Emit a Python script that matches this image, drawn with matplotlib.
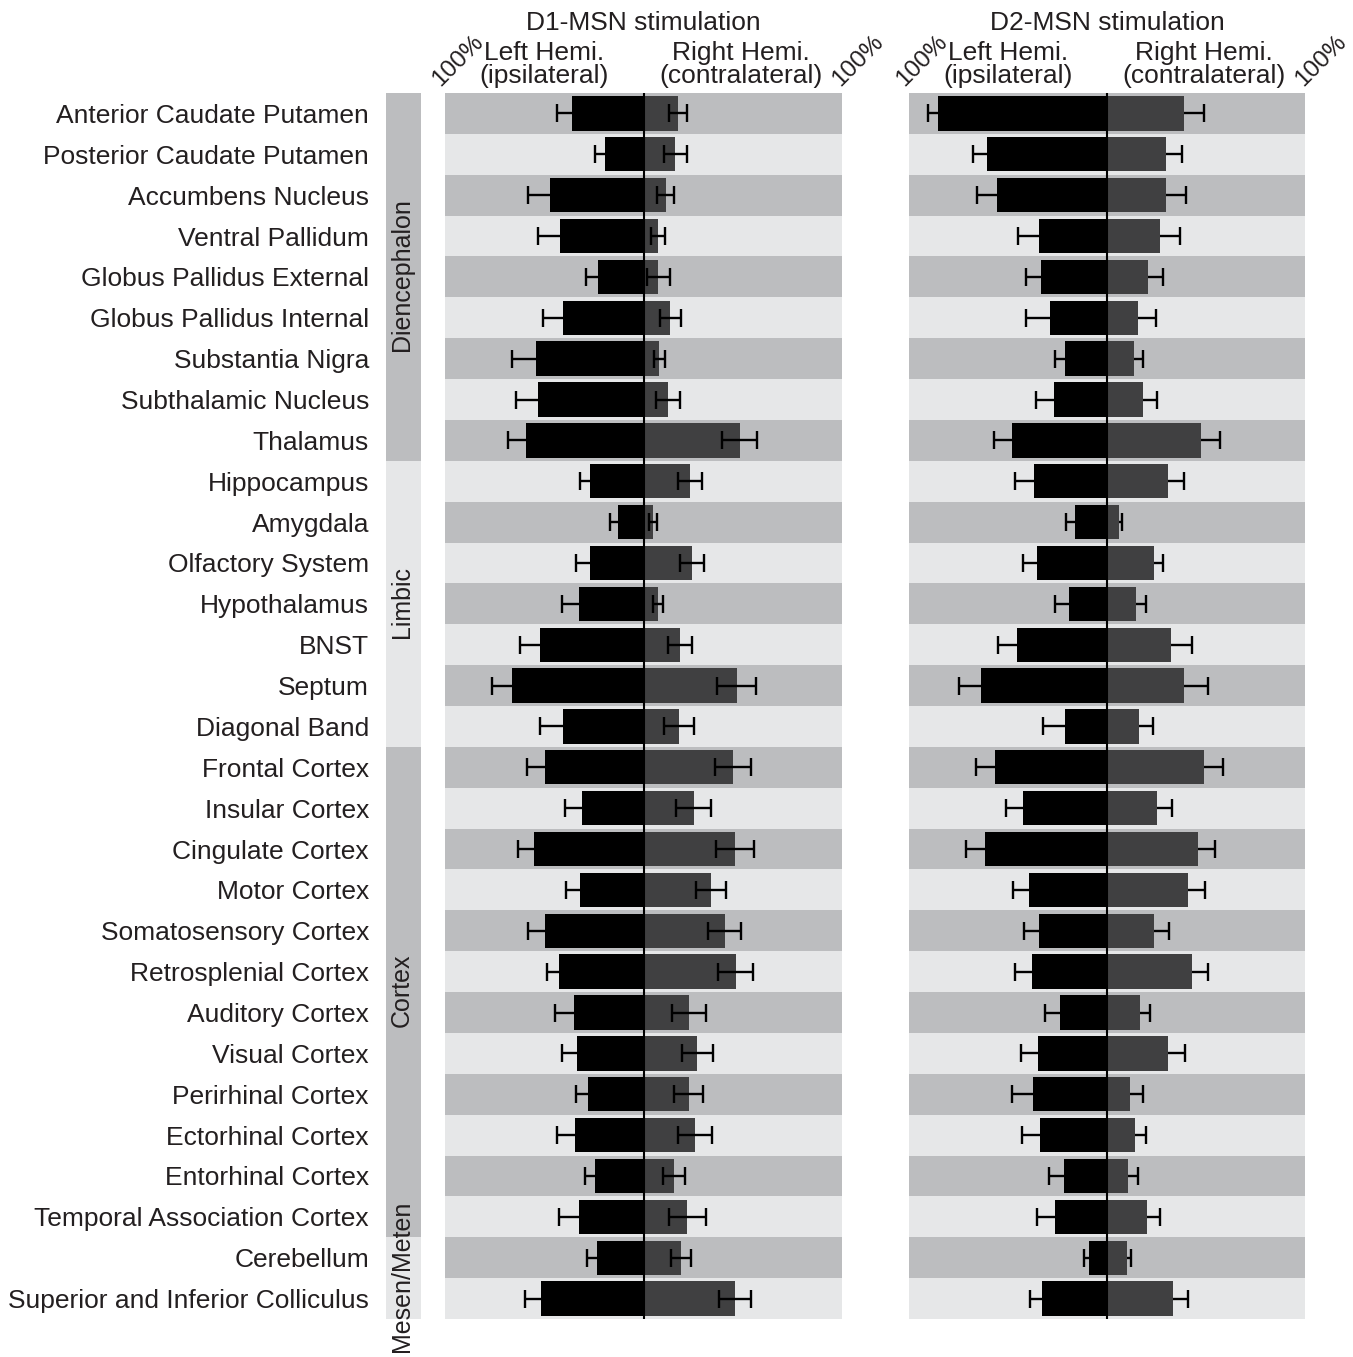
import numpy as np
import matplotlib
matplotlib.use("Agg")
import matplotlib.pyplot as plt
from matplotlib.transforms import blended_transform_factory

plt.rcParams["font.family"] = ["Liberation Sans", "DejaVu Sans"]

# Brain regions (top to bottom) and their anatomical groups
regions = [
    "Anterior Caudate Putamen", "Posterior Caudate Putamen", "Accumbens Nucleus",
    "Ventral Pallidum", "Globus Pallidus External", "Globus Pallidus Internal",
    "Substantia Nigra", "Subthalamic Nucleus", "Thalamus",
    "Hippocampus", "Amygdala", "Olfactory System", "Hypothalamus", "BNST",
    "Septum", "Diagonal Band",
    "Frontal Cortex", "Insular Cortex", "Cingulate Cortex", "Motor Cortex",
    "Somatosensory Cortex", "Retrosplenial Cortex", "Auditory Cortex",
    "Visual Cortex", "Perirhinal Cortex", "Ectorhinal Cortex",
    "Entorhinal Cortex", "Temporal Association Cortex",
    "Cerebellum", "Superior and Inferior Colliculus",
]
groups = ["Diencephalon", "Limbic", "Cortex", "Mesen/Meten"]
group_sizes = [9, 7, 12, 2]

# D1-MSN stimulation (% of max), mean and error
d1_left = [35.8, 19.6, 46.9, 42.0, 22.8, 40.7, 54.4, 53.3, 59.3, 27.1,
           12.9, 27.1, 32.7, 51.9, 66.2, 40.7, 49.4, 30.8, 55.1, 32.2,
           49.4, 42.5, 35.2, 33.3, 27.8, 34.5, 24.6, 32.7, 23.5, 51.4]
d1_left_err = [8.0, 5.0, 11.2, 11.0, 6.0, 10.0, 12.0, 10.7, 9.0, 5.0,
               4.2, 7.0, 8.5, 10.2, 10.2, 11.4, 9.5, 8.9, 8.2, 7.0,
               9.0, 5.9, 9.5, 7.9, 6.4, 9.0, 4.9, 10.0, 5.0, 8.4]
d1_right = [17.3, 16.1, 11.2, 7.4, 7.4, 13.6, 8.0, 12.4, 48.4, 23.5,
            4.7, 24.6, 7.2, 18.4, 46.9, 17.8, 45.2, 25.3, 46.2, 34.0,
            40.9, 46.4, 22.8, 27.1, 22.8, 26.0, 15.4, 22.1, 18.9, 46.2]
d1_right_err = [4.7, 5.7, 4.2, 3.6, 5.7, 5.5, 2.7, 6.2, 8.7, 5.9,
                1.9, 6.1, 2.6, 6.2, 9.9, 7.7, 9.2, 8.7, 9.5, 7.8,
                8.3, 8.7, 8.5, 7.8, 7.4, 8.5, 5.5, 9.3, 5.2, 8.1]

# D2-MSN stimulation (% of max), mean and error
d2_left = [85.4, 60.4, 55.6, 34.1, 33.5, 28.6, 21.2, 26.8, 48.0, 36.7,
           16.0, 35.5, 19.2, 45.5, 63.6, 21.0, 56.7, 42.3, 61.6, 39.2,
           34.2, 37.9, 23.6, 34.8, 37.4, 33.7, 21.9, 26.1, 9.3, 33.0]
d2_left_err = [4.8, 7.3, 10.1, 11.0, 7.2, 12.1, 5.2, 8.9, 9.1, 9.8,
               4.9, 7.1, 7.2, 9.6, 11.0, 11.5, 9.6, 8.9, 9.6, 8.4,
               7.7, 8.4, 7.9, 8.6, 10.8, 9.1, 7.6, 9.1, 2.4, 5.9]
d2_right = [39.1, 29.8, 29.8, 26.6, 20.6, 15.5, 13.6, 18.0, 47.3, 31.0,
            6.1, 23.6, 14.8, 32.2, 39.1, 16.0, 49.0, 25.3, 46.0, 40.9,
            23.6, 42.8, 16.7, 31.0, 11.6, 14.1, 10.4, 20.4, 9.9, 33.5]
d2_right_err = [10.0, 7.9, 10.3, 10.5, 7.7, 9.1, 4.7, 7.1, 9.8, 7.9,
                1.7, 4.7, 5.1, 10.6, 12.1, 7.2, 9.8, 7.5, 8.4, 8.8,
                7.9, 8.0, 4.9, 8.6, 6.7, 5.7, 5.2, 6.6, 2.2, 7.2]

DARK_BAND = "#bcbdbf"
LIGHT_BAND = "#e6e7e8"
LEFT_BAR = "#000000"
RIGHT_BAR = "#404041"
TEXT = "#231f20"
FS = 19
FS_SMALL = 17.5

W, H = 1353, 1357
fig = plt.figure(figsize=(W / 100, H / 100), dpi=100)

n = len(regions)
y = np.arange(n)
top_px, bot_px = 93, 1319


def frac_rect(x0, x1):
    return [x0 / W, 1 - bot_px / H, (x1 - x0) / W, (bot_px - top_px) / H]


def setup(ax):
    ax.set_xlim(-100, 100)
    ax.set_ylim(n - 0.5, -0.5)
    for i in range(n):
        ax.axhspan(i - 0.5, i + 0.5, color=DARK_BAND if i % 2 == 0 else LIGHT_BAND,
                   lw=0, zorder=0)
    for s in ax.spines.values():
        s.set_visible(False)
    ax.set_xticks([])
    ax.set_yticks([])
    ax.patch.set_alpha(0)


def headers(ax, title):
    ax.text(0.5, 1.057, title, transform=ax.transAxes, ha="center", va="center",
            fontsize=FS, color=TEXT)
    ax.text(0.25, 1.0325, "Left Hemi.", transform=ax.transAxes, ha="center",
            va="center", fontsize=FS, color=TEXT)
    ax.text(0.25, 1.0135, "(ipsilateral)", transform=ax.transAxes, ha="center",
            va="center", fontsize=FS, color=TEXT)
    ax.text(0.745, 1.0325, "Right Hemi.", transform=ax.transAxes, ha="center",
            va="center", fontsize=FS, color=TEXT)
    ax.text(0.745, 1.0135, "(contralateral)", transform=ax.transAxes, ha="center",
            va="center", fontsize=FS, color=TEXT)
    for xa in (0.033, 1.04):
        ax.text(xa, 1.026, "100%", transform=ax.transAxes, ha="center",
                va="center", rotation=45, fontsize=FS_SMALL, color=TEXT)


bar_h = 0.84
cap_pt = 6.5
lw_err = 1.7

# D1 panel
ax1 = fig.add_axes(frac_rect(445, 842))
setup(ax1)
ax1.barh(y, -np.array(d1_left), height=bar_h, color=LEFT_BAR, zorder=2)
ax1.barh(y, d1_right, height=bar_h, color=RIGHT_BAR, zorder=2)
ax1.errorbar(-np.array(d1_left), y, xerr=d1_left_err, fmt="none", ecolor="black",
             elinewidth=lw_err, capsize=cap_pt, capthick=lw_err, zorder=3)
ax1.errorbar(d1_right, y, xerr=d1_right_err, fmt="none", ecolor="black",
             elinewidth=lw_err, capsize=cap_pt, capthick=lw_err, zorder=3)
ax1.axvline(0, color="black", lw=1.5, zorder=4)
headers(ax1, "D1-MSN stimulation")

# D2 panel: one-sided error bars pointing outward
ax2 = fig.add_axes(frac_rect(909, 1305))
setup(ax2)
l2 = -np.array(d2_left)
r2 = np.array(d2_right)
ax2.barh(y, l2, height=bar_h, color=LEFT_BAR, zorder=2)
ax2.barh(y, r2, height=bar_h, color=RIGHT_BAR, zorder=2)
l2_end = l2 - np.array(d2_left_err)
r2_end = r2 + np.array(d2_right_err)
ax2.hlines(y, l2_end, l2, color="black", lw=lw_err, zorder=3)
ax2.hlines(y, r2, r2_end, color="black", lw=lw_err, zorder=3)
ax2.plot(l2_end, y, ls="none", marker="|", ms=2 * cap_pt, mew=lw_err,
         color="black", zorder=3)
ax2.plot(r2_end, y, ls="none", marker="|", ms=2 * cap_pt, mew=lw_err,
         color="black", zorder=3)
ax2.axvline(0, color="black", lw=1.5, zorder=4)
headers(ax2, "D2-MSN stimulation")

# Region names
tr = blended_transform_factory(ax1.transAxes, ax1.transData)
for yi, name in zip(y, regions):
    ax1.text((369 - 445) / 397, yi, name, transform=tr, ha="right",
             va="center_baseline", fontsize=FS, color=TEXT, clip_on=False)

# Group sidebar
axg = fig.add_axes(frac_rect(386, 421))
axg.set_xlim(0, 1)
axg.set_ylim(n - 0.5, -0.5)
axg.axis("off")
start = 0
for k, (g, size) in enumerate(zip(groups, group_sizes)):
    axg.axhspan(start - 0.5, start + size - 0.5,
                color=DARK_BAND if k % 2 == 0 else LIGHT_BAND, lw=0, zorder=0)
    axg.text(0.45, start + (size - 1) / 2 - 0.05, g, rotation=90, ha="center",
             va="center", fontsize=18, color=TEXT, clip_on=False)
    start += size

fig.savefig("out.png", dpi=100, facecolor="white")
